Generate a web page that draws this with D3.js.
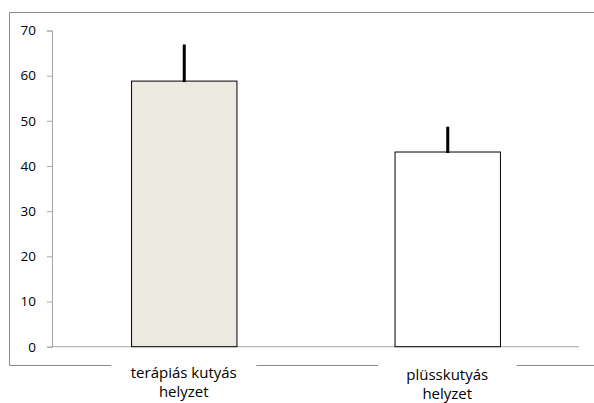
<!DOCTYPE html>
<html><head><meta charset="utf-8">
<script src="https://cdn.jsdelivr.net/npm/d3@7"></script>
<style>body{margin:0;background:#fff}svg{display:block}</style>
</head><body>
<svg id="c" width="594" height="403"></svg>
<script>
const categories = [["terápiás kutyás","helyzet"],["plüsskutyás","helyzet"]];
const values = [58.8, 43.1];
const errorTops = [66.9, 48.7];
const barFills = ["#ECE9E0", "#FFFFFF"];
const yTicks = [0,10,20,30,40,50,60,70];

(function(){
const svg = d3.select("#c");
const font = "'Open Sans', sans-serif";
const pLeft = 52, pRight = 579, pTop = 30.5, pBottom = 346.7;

// outer border
svg.append("path").attr("d","M594,12.5H9.5V365.5H594").attr("fill","none").attr("stroke","#8a8a8a").attr("stroke-width",1);

const x = d3.scaleBand().domain(d3.range(categories.length)).range([pLeft,pRight]).paddingInner(0.6).paddingOuter(0.3);
const y = d3.scaleLinear().domain([0,70]).range([pBottom,pTop]);

const yAxis = svg.append("g").attr("transform",`translate(${pLeft},0)`)
  .call(d3.axisLeft(y).tickValues(yTicks).tickSize(5).tickPadding(11));
yAxis.select(".domain").attr("stroke","#a6a6a6");
yAxis.selectAll(".tick line").attr("stroke","#a6a6a6");
yAxis.selectAll("text").attr("font-family",font).attr("font-size",13.5).attr("fill","#000");

svg.append("line").attr("x1",pLeft).attr("x2",pRight).attr("y1",pBottom).attr("y2",pBottom).attr("stroke","#a6a6a6");

svg.selectAll("rect.bar").data(values).join("rect").attr("class","bar")
  .attr("x",(d,i)=>x(i)+0.5).attr("width",x.bandwidth())
  .attr("y",d=>y(d)).attr("height",d=>y(0)-y(d))
  .attr("fill",(d,i)=>barFills[i]).attr("stroke","#000").attr("stroke-width",1);

svg.selectAll("line.err").data(errorTops).join("line").attr("class","err")
  .attr("x1",(d,i)=>x(i)+x.bandwidth()/2+0.5).attr("x2",(d,i)=>x(i)+x.bandwidth()/2+0.5)
  .attr("y1",d=>y(d)).attr("y2",(d,i)=>y(values[i])+1)
  .attr("stroke","#000").attr("stroke-width",3);

const labelW = [145, 139];
categories.forEach((lines,i)=>{
  const cx = x(i)+x.bandwidth()/2;
  svg.append("rect").attr("x",cx-labelW[i]/2).attr("y",360).attr("width",labelW[i]).attr("height",43).attr("fill","#fff");
  lines.forEach((t,j)=>{
    svg.append("text").attr("x",cx).attr("y",378+j*18.5+i*2).attr("text-anchor","middle")
      .attr("font-family",font).attr("font-size",15).attr("fill","#000").text(t);
  });
});
})();
</script>
</body></html>
